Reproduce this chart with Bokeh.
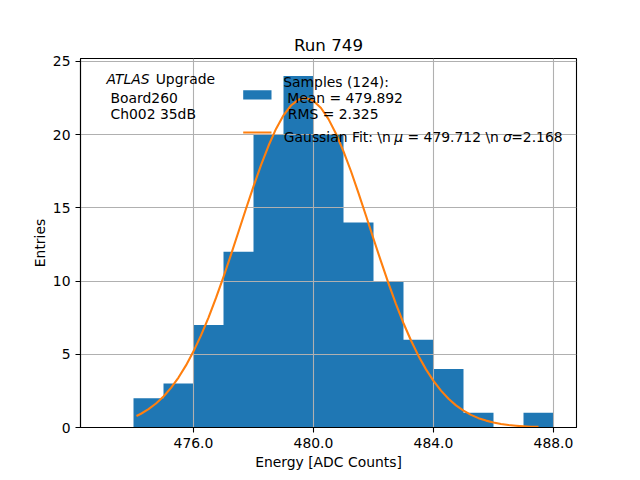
from bokeh.plotting import figure
from bokeh.models import (Range1d, FixedTicker, PrintfTickFormatter, Label,
                          BoxAnnotation, ColumnDataSource)
from bokeh.embed import file_html
from bokeh.resources import INLINE

# ---- data ----
bin_edges = [473, 474, 475, 476, 477, 478, 479, 480, 481, 482, 483, 484, 485, 486, 487, 488]
counts = [0, 2, 3, 7, 12, 20, 24, 20, 14, 10, 6, 4, 1, 0, 1]

fit_x = [474.1, 474.25, 474.5, 474.75, 475.0, 475.25, 475.5, 475.75, 476.0, 476.25,
         476.5, 476.75, 477.0, 477.25, 477.5, 477.75, 478.0, 478.25, 478.5, 478.75,
         479.0, 479.25, 479.5, 479.75, 480.0, 480.25, 480.5, 480.75, 481.0, 481.25,
         481.5, 481.75, 482.0, 482.25, 482.5, 482.75, 483.0, 483.25, 483.5, 483.75,
         484.0, 484.25, 484.5, 484.75, 485.0, 485.25, 485.5, 485.75, 486.0, 486.25,
         486.5, 486.75, 487.0, 487.25, 487.5]
fit_y = [0.79, 0.94, 1.25, 1.64, 2.12, 2.71, 3.41, 4.24, 5.20, 6.29,
         7.51, 8.85, 10.29, 11.81, 13.37, 14.94, 16.47, 17.92, 19.24, 20.39,
         21.32, 21.99, 22.39, 22.50, 22.30, 21.82, 21.06, 20.06, 18.86, 17.50,
         16.01, 14.46, 12.89, 11.34, 9.84, 8.43, 7.12, 5.94, 4.89, 3.97,
         3.18, 2.52, 1.96, 1.51, 1.15, 0.86, 0.64, 0.47, 0.34, 0.24,
         0.17, 0.12, 0.08, 0.05, 0.04]

x_ticks = [476, 480, 484, 488]
y_ticks = [0, 5, 10, 15, 20, 25]

title_text = "Run 749"
x_label = "Energy [ADC Counts]"
y_label = "Entries"
hist_label = ["Samples (124):", "Mean = 479.892", "RMS = 2.325"]

X0 = 476 - 113 / 30.0
X1 = X0 + 496 / 30.0
Y0, Y1 = 0.0, 25.2

FONT = "DejaVu Sans"
FS = "13.9px"
BLUE = "#1f77b4"
ORANGE = "#ff7f0e"

p = figure(width=640, height=480, output_backend="svg", toolbar_location=None,
           x_range=Range1d(X0, X1), y_range=Range1d(Y0, Y1),
           min_border_left=80, min_border_right=64, min_border_top=58,
           min_border_bottom=53)
p.background_fill_color = "white"
p.border_fill_color = "white"
p.outline_line_color = "black"
p.outline_line_width = 1.1

p.title.text = title_text
p.title.align = "center"
p.title.text_font = FONT
p.title.text_font_size = "16.7px"
p.title.text_font_style = "normal"
p.title.text_color = "black"
p.title.standoff = 8

# histogram as one stepped filled area (no seams between bins)
src = ColumnDataSource(dict(x=bin_edges, top=counts + counts[-1:]))
h = p.varea_step(x="x", y1=0, y2="top", step_mode="after", source=src,
                 fill_color=BLUE)
h.level = "image"

ln = p.line(fit_x, fit_y, line_color=ORANGE, line_width=2.1, line_join="round")
ln.level = "glyph"

for g in (p.xgrid, p.ygrid):
    g.grid_line_color = "#b0b0b0"
    g.grid_line_width = 1.1
p.xgrid.ticker = FixedTicker(ticks=x_ticks)
p.ygrid.ticker = FixedTicker(ticks=y_ticks)

for ax in (p.xaxis, p.yaxis):
    ax.axis_line_color = "black"
    ax.axis_line_width = 1.1
    ax.major_tick_line_width = 1.1
    ax.major_tick_out = 5
    ax.major_tick_in = 0
    ax.minor_tick_line_color = None
    ax.major_label_text_font = FONT
    ax.major_label_text_font_size = FS
    ax.major_label_text_color = "black"
    ax.major_label_standoff = 5
    ax.axis_label_text_font = FONT
    ax.axis_label_text_font_size = FS
    ax.axis_label_text_font_style = "normal"
    ax.axis_label_text_color = "black"

p.xaxis.ticker = FixedTicker(ticks=x_ticks)
p.xaxis.formatter = PrintfTickFormatter(format="%.1f")
p.yaxis.ticker = FixedTicker(ticks=y_ticks)
p.xaxis.axis_label = x_label
p.yaxis.axis_label = y_label
p.xaxis.axis_label_standoff = 3
p.yaxis.axis_label_standoff = 2


# helpers: convert reference-image pixel positions into data coordinates
def dx(px):
    return X0 + (px - 80) / 30.0


def dy(py):
    return (427.2 - py) / (369.6 / 25.2)


def label(text, px, py, italic=False):
    p.add_layout(Label(x=dx(px), y=dy(py), text=text, text_font=FONT,
                       text_font_size=FS, text_baseline="alphabetic",
                       text_align="left", text_color="black",
                       text_font_style="italic" if italic else "normal"))


# ATLAS text
label("ATLAS", 106, 78.5, italic=True)
label("Upgrade", 155.2, 78.5)
label("Board260", 110, 96.7)
label("Ch002 35dB", 110, 113.3)

# legend
p.add_layout(BoxAnnotation(left=dx(242.7), right=dx(271), top=dy(89.3), bottom=dy(98.7),
                           fill_color=BLUE, fill_alpha=1.0, line_color=None))
p.add_layout(BoxAnnotation(left=dx(242.7), right=dx(271), top=dy(130.7), bottom=dy(132.7),
                           fill_color=ORANGE, fill_alpha=1.0, line_color=None))
label(hist_label[0], 282.7, 80.8)
label(hist_label[1], 286.7, 96.9)
label(hist_label[2], 287.3, 113.3)
label("Gaussian Fit: \\n", 283.3, 136)
label("\u03bc", 393.8, 136, italic=True)
label("= 479.712 \\n", 407.0, 136)
label("\u03c3", 502.5, 136, italic=True)
label("=2.168", 510.7, 136)

open("out.html", "w").write(file_html(p, INLINE))
